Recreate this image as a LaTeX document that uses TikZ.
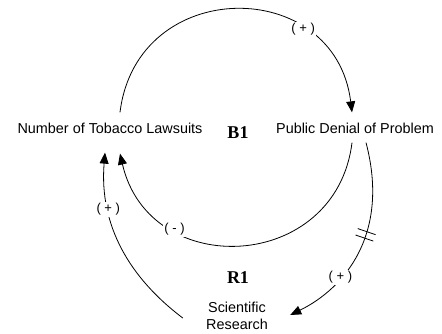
\documentclass[tikz,border=0pt]{standalone}
\usepackage{fontspec}
\setmainfont{Liberation Sans}
\newfontfamily\loopfont{Liberation Serif}
\usetikzlibrary{arrows.meta}

\begin{document}
\begin{tikzpicture}[->,>={Triangle[length=11pt,width=9pt]},x=1pt,y=1pt,line width=0.8pt]
          \tikzstyle{var}=[inner sep=0pt,text depth=0pt,font=\fontsize{14.4}{17}\selectfont]
          \tikzstyle{sign}=[fill=white,inner sep=1.5pt,font=\fontsize{13}{15}\selectfont]
          \tikzstyle{loopname}=[font=\loopfont\bfseries\fontsize{18}{21}\selectfont]
          \tikzstyle{delaymark}=[sloped,minimum width=6pt,minimum height=18pt,inner sep=0pt]
          \useasboundingbox (0,0) rectangle (442,333);
          \node[var]              (law)    at (110,205) {Number of Tobacco Lawsuits};
          \node[var]              (denial) at (355,205) {Public Denial of Problem};
          \node[var,align=center] (sci)    at (237,17)  {Scientific\\Research};
          \node[loopname]         (B1)     at (238,200) {B1};
          \node[loopname]         (R1)     at (238,55)  {R1};
          % balancing loop
          \draw ([shift={(10pt,10pt)}]law.north) .. controls +(83:138) and +(97:138) .. ([shift={(-3pt,10pt)}]denial.north)
            node[sign,pos=0.72] {( + )};
          \draw ([shift={(-3pt,-9pt)}]denial.south) .. controls +(-97:131) and +(-77:131) .. ([shift={(10pt,-20pt)}]law.south)
            node[sign,pos=0.72] {( - )};
          % reinforcing loop
          \draw ([shift={(11pt,-9pt)}]denial.south) .. controls +(24,-91) and +(55,27) .. ([shift={(22pt,1pt)}]sci.east)
            node[delaymark,pos=0.4] (dmark) {}
            node[sign,pos=0.66] {( + )};
          \draw[-] (dmark.south west) -- (dmark.north west)
                   (dmark.south east) -- (dmark.north east);
          \draw ([shift={(-23pt,-2pt)}]sci.west) .. controls +(-53,40) and +(-6,-73) .. ([shift={(-5pt,-19pt)}]law.south)
            node[sign,pos=0.72] {( + )};
        \end{tikzpicture}
\end{document}
